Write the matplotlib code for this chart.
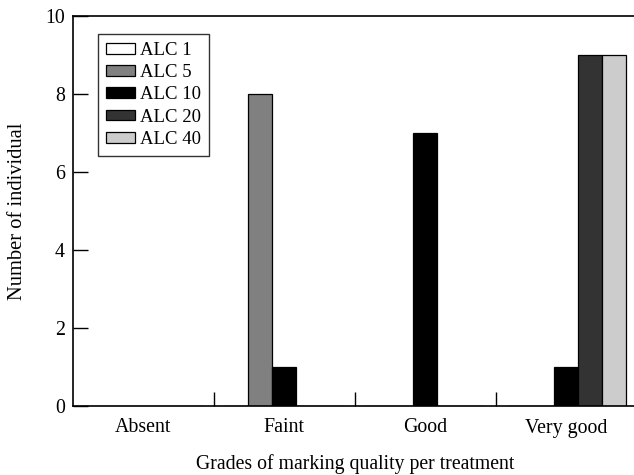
import matplotlib
matplotlib.use("Agg")
import matplotlib.pyplot as plt
import numpy as np

grades = ["Absent", "Faint", "Good", "Very good"]
series_names = ["ALC 1", "ALC 5", "ALC 10", "ALC 20", "ALC 40"]
alc1 = [0, 0, 0, 0]
alc5 = [0, 8, 0, 0]
alc10 = [0, 1, 7, 1]
alc20 = [0, 0, 0, 9]
alc40 = [0, 0, 0, 9]
series_values = [alc1, alc5, alc10, alc20, alc40]
colors = ["#ffffff", "#808080", "#000000", "#333333", "#cccccc"]
yticks = [0, 2, 4, 6, 8, 10]

plt.rcParams["font.family"] = ["Liberation Serif", "DejaVu Serif"]

fig = plt.figure(figsize=(6.34, 4.75), dpi=100)
ax = fig.add_axes([73 / 634, 69 / 475, 563.5 / 634, 390 / 475])

x = np.arange(len(grades))
w = 0.171
for i, (name, vals, c) in enumerate(zip(series_names, series_values, colors)):
    ax.bar(x + (i - 2) * w, vals, width=w, color=c, edgecolor="black",
           linewidth=0.9, label=name)

ax.set_xlim(-0.5, 3.5)
ax.set_ylim(0, 10)
ax.set_yticks(yticks)
ax.set_xticks(x)
ax.set_xticklabels(grades)
ax.set_xticks(x[:-1] + 0.5, minor=True)
ax.tick_params(axis="x", which="major", length=0, pad=9, labelsize=14.3)
ax.tick_params(axis="x", which="minor", direction="in", length=10, width=1)
ax.tick_params(axis="y", direction="in", length=11, width=1, pad=6, labelsize=14.3)
for s in ["left", "bottom", "top", "right"]:
    ax.spines[s].set_linewidth(1.2)

ax.set_ylabel("Number of individual", fontsize=14.8, labelpad=13)
ax.set_xlabel("Grades of marking quality per treatment", fontsize=14.2, labelpad=12)

leg = ax.legend(loc="upper left", bbox_to_anchor=(0.044, 0.954), fontsize=13.5,
                frameon=True, fancybox=False, edgecolor="black",
                handlelength=1.55, handleheight=0.5, handletextpad=0.27,
                labelspacing=0.28, borderpad=0.42, borderaxespad=0)
leg.get_frame().set_linewidth(1.0)

fig.savefig("out.png", dpi=100)
